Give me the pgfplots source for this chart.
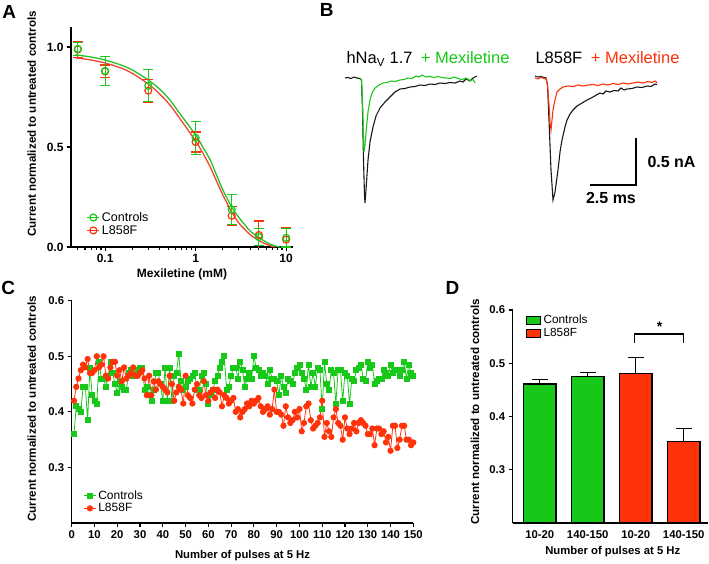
\documentclass[border=0pt]{standalone}
\usepackage{fontspec}
\setmainfont{Liberation Sans}
\usepackage{pgfplots}
\pgfplotsset{compat=1.18}

\definecolor{cgreen}{RGB}{24,200,24}
\definecolor{cred}{RGB}{255,50,10}
\definecolor{fitgreen}{RGB}{40,190,40}
\definecolor{fitred}{RGB}{240,70,50}
\definecolor{trace}{RGB}{25,25,25}

\pgfplotsset{
  gp/.style={scale only axis, anchor=south west,
    axis lines=left, axis line style={-, line width=1.1pt},
    tick style={line width=1.1pt, black}, tick align=outside,
    major tick length=4pt, minor tick length=2.5pt,
    ticklabel style={font=\fontsize{11.3}{12}\selectfont\bfseries},
    /pgf/number format/assume math mode=true,
    legend cell align=left},
  dots/.style={legend image code/.code={
    \draw[mark repeat=2, mark phase=2, ##1] plot coordinates {(0pt,0pt) (6pt,0pt) (12pt,0pt)};}},
  box/.style={legend image code/.code={
    \draw[##1, line width=1pt] (0pt,-3.8pt) rectangle (13.6pt,3.8pt);}},
}

\begin{document}
\begin{tikzpicture}
\useasboundingbox (0pt,0pt) rectangle (709pt,-563pt);

% ---------- A: dose response ----------
\begin{axis}[gp, at={(71pt,-247pt)}, width=222pt, height=220pt,
    xmode=log, xmin=0.042, xmax=11.9, ymin=0, ymax=1.1,
    xtick={0.1,1,10}, xticklabels={0.1,1,10},
    minor xtick={0.05,0.06,0.07,0.08,0.09,0.2,0.3,0.4,0.5,0.6,0.7,0.8,0.9,2,3,4,5,6,7,8,9},
    ytick={0,0.5,1},
    yticklabel style={/pgf/number format/.cd, fixed, fixed zerofill, precision=1},
    ticklabel style={font=\fontsize{12}{13}\selectfont\bfseries},
    dots,
    legend style={at={(0.07,0.168)}, anchor=north west, draw=none, fill=none,
      font=\fontsize{12.5}{13}\selectfont, row sep=-1.5pt, inner sep=0pt},
  ]
  \addlegendimage{cgreen, line width=1.2pt, mark=o, mark size=3.5pt}
  \addlegendentry{Controls}
  \addlegendimage{cred, line width=1.2pt, mark=o, mark size=3.5pt}
  \addlegendentry{L858F}

  \addplot[fitred, line width=1.3pt, smooth, forget plot] coordinates {
    (0.047,0.946) (0.07,0.935) (0.1,0.92) (0.15,0.895) (0.2,0.868) (0.3,0.815)
    (0.4,0.765) (0.52,0.71) (0.7,0.63) (1,0.53) (1.2,0.47) (1.45,0.40) (1.7,0.33)
    (2,0.26) (2.5,0.175) (3,0.12) (3.37,0.095) (4,0.062) (4.9,0.035) (5.5,0.022)
    (6.6,0.007) (7.5,0)};
  \addplot[fitgreen, line width=1.3pt, smooth, forget plot] coordinates {
    (0.047,0.961) (0.07,0.95) (0.1,0.935) (0.15,0.91) (0.2,0.885) (0.3,0.835)
    (0.4,0.79) (0.52,0.735) (0.7,0.655) (1,0.56) (1.2,0.5) (1.45,0.435) (1.7,0.36)
    (2,0.285) (2.5,0.20) (3,0.148) (3.37,0.12) (4,0.08) (4.9,0.05) (5.5,0.035)
    (6.6,0.015) (8,0.002) (8.5,0)};

  \addplot[cred, only marks, mark=o, mark size=3.5pt, mark options={line width=1.2pt}, forget plot,
    error bars/.cd, y dir=both, y explicit,
    error bar style={line width=1.1pt, cred},
    error mark options={rotate=90, mark size=5pt, line width=1.1pt, cred}]
    coordinates {
    (0.05,0.988) +- (0,0.04) (0.1,0.878) +- (0,0.032) (0.3,0.782) +- (0,0.057)
    (1,0.525) +- (0,0.05) (2.5,0.156) +- (0,0.048) (5,0.06) +- (0,0.07)
    (10,0.037) +- (0,0.06)};
  \addplot[cgreen, only marks, mark=o, mark size=3.5pt, mark options={line width=1.2pt}, forget plot,
    error bars/.cd, y dir=both, y explicit,
    error bar style={line width=1.1pt, cgreen},
    error mark options={rotate=90, mark size=5pt, line width=1.1pt, cgreen}]
    coordinates {
    (0.05,0.99) +- (0,0.033) (0.1,0.88) +- (0,0.072) (0.3,0.806) +- (0,0.08)
    (1,0.546) +- (0,0.083) (2.5,0.188) +- (0,0.075) (5,0.05) +- (0,0.042)
    (10,0.046) +- (0,0.046)};
\end{axis}

% ---------- B: current traces ----------
\begin{axis}[at={(340pt,-215pt)}, anchor=south west, scale only axis, hide axis,
    width=369pt, height=175pt, xmin=340, xmax=709, ymin=40, ymax=215,
    y dir=reverse, clip=false]
  \addplot[trace, line width=1.1pt] coordinates {
    (345,78) (348,77.5) (351,78.5) (354,77) (357,78) (360,78.5) (361.5,80)
    (362.5,110) (363.5,160) (364.5,195) (365,203) (366,190) (368,160) (370,142)
    (373,127) (376,116) (380,108) (385,102) (390,97) (395,92) (400,89) (405,88.5)
    (410,87) (415,86.5) (420,85) (425,85.5) (430,84) (435,84.5) (440,83) (445,83.5)
    (450,82.5) (455,83) (460,81) (463,82) (466,79) (470,81) (473,78) (477,76)};
  \addplot[cgreen, line width=1.1pt] coordinates {
    (360,78.5) (361.5,80) (362.5,100) (363.5,140) (364,152) (365,145) (366,133)
    (368,112) (370,100) (372,93) (375,88) (379,85) (383,83) (387,82.5) (391,81)
    (395,81.5) (400,80) (404,79.5) (408,78) (412,78.5) (416,76) (419,77) (422,75)
    (426,77) (430,76.5) (434,77.5) (438,76.5) (442,77.5) (446,78) (450,78.5)
    (454,77) (458,78.5) (462,79.5) (466,78) (470,80.5) (473,79.5) (475,83)};
  \addplot[trace, line width=1.1pt] coordinates {
    (535,76) (538,77) (541,76.5) (544,77.5) (546,78) (547.5,85) (549,120) (551,170)
    (553,200) (555,192) (558,170) (560,152) (562,140) (565,127) (567,120) (570,114)
    (573,110) (577,106) (582,103) (587,100) (593,97) (598,94) (600,93) (603,94)
    (606,91) (610,92) (614,90.5) (618,91) (621,88) (624,90) (627,89) (632,88.5)
    (637,87) (642,87.5) (647,86) (651,86.5) (655,84) (657,84.5)};
  \addplot[cred, line width=1.1pt] coordinates {
    (535,78) (538,79) (541,77.5) (544,78.5) (546,79) (547.5,85) (549,105) (550,122)
    (551,130) (552,120) (553,110) (555,100) (557,92) (560,89) (563,87) (568,86)
    (573,86.5) (578,85) (583,86) (588,85) (593,84.5) (598,85.5) (603,84) (608,85)
    (613,83.5) (618,84.5) (623,83) (628,84) (633,83) (638,82) (643,83) (648,81.5)
    (652,82.5) (655,81) (657,82.5)};
  % scale bar
  \addplot[black, line width=1.1pt] coordinates {(636,138) (636,185) (590,185)};
  \node[anchor=base west, font=\fontsize{16.5}{18}\selectfont] at (axis cs:343,63.7) {hNa\textsubscript{V} 1.7};
  \node[anchor=base east, font=\fontsize{16.5}{18}\selectfont, text=cgreen] at (axis cs:513,63.7) {+ Mexiletine};
  \node[anchor=base west, font=\fontsize{16.5}{18}\selectfont] at (axis cs:532,63.7) {L858F};
  \node[anchor=base east, font=\fontsize{16.5}{18}\selectfont, text=cred] at (axis cs:683,63.7) {+ Mexiletine};
  \node[anchor=west, font=\fontsize{16}{18}\selectfont\bfseries] at (axis cs:644,161.7) {0.5 nA};
  \node[font=\fontsize{16}{18}\selectfont\bfseries] at (axis cs:611,198.3) {2.5 ms};
\end{axis}

% ---------- C: pulse train ----------
\begin{axis}[gp, at={(71.7pt,-523pt)}, width=341.6pt, height=222.3pt,
    xmin=0, xmax=150, ymin=0.2, ymax=0.6,
    xtick={0,10,...,150}, ytick={0.3,0.4,0.5,0.6},
    yticklabel style={/pgf/number format/.cd, fixed, fixed zerofill, precision=1},
    dots, clip=false,
    legend style={at={(0.034,0.155)}, anchor=north west, draw=none, fill=none,
      font=\fontsize{12}{13}\selectfont, row sep=-1.5pt, inner sep=0pt},
  ]
  \addplot[cgreen, line width=0.8pt, mark=square*, mark size=2.5pt] coordinates {
    (1,0.36) (2,0.41) (3,0.405) (4,0.40) (5,0.445) (6,0.445) (7,0.385) (8,0.48)
    (9,0.43) (10,0.42) (11,0.415) (12,0.49) (13,0.46) (14,0.46) (15,0.445) (16,0.465)
    (17,0.49) (18,0.47) (19,0.45) (20,0.435) (21,0.455) (22,0.445) (23,0.44) (24,0.44)
    (25,0.47) (26,0.475) (27,0.465) (28,0.465) (29,0.475) (30,0.48) (31,0.48) (32,0.44)
    (33,0.445) (34,0.43) (35,0.42) (36,0.44) (37,0.47) (38,0.47) (39,0.45) (40,0.42)
    (41,0.48) (42,0.42) (43,0.48) (44,0.42) (45,0.465) (46,0.47) (47,0.505) (48,0.455)
    (49,0.44) (50,0.445) (51,0.455) (52,0.46) (53,0.465) (54,0.47) (55,0.44) (56,0.44)
    (57,0.465) (58,0.47) (59,0.45) (60,0.415) (61,0.43) (62,0.44) (63,0.455) (64,0.465)
    (65,0.48) (66,0.49) (67,0.50) (68,0.44) (69,0.445) (70,0.465) (71,0.48) (72,0.48)
    (73,0.46) (74,0.49) (75,0.475) (76,0.445) (77,0.46) (78,0.47) (79,0.46) (80,0.50)
    (81,0.48) (82,0.475) (83,0.465) (84,0.47) (85,0.465) (86,0.45) (87,0.475) (88,0.46)
    (89,0.46) (90,0.455) (91,0.43) (92,0.465) (93,0.445) (94,0.435) (95,0.46) (96,0.455)
    (97,0.45) (98,0.47) (99,0.48) (100,0.485) (101,0.47) (102,0.46) (103,0.44) (104,0.485)
    (105,0.445) (106,0.47) (107,0.445) (108,0.48) (109,0.475) (110,0.405) (111,0.49) (112,0.45)
    (113,0.44) (114,0.475) (115,0.47) (116,0.415) (117,0.475) (118,0.475) (119,0.42) (120,0.47)
    (121,0.465) (122,0.415) (123,0.46) (124,0.455) (125,0.475) (126,0.48) (127,0.485) (128,0.46)
    (129,0.455) (130,0.49) (131,0.48) (132,0.485) (133,0.45) (134,0.455) (135,0.46) (136,0.46)
    (137,0.475) (138,0.47) (139,0.465) (140,0.485) (141,0.47) (142,0.475) (143,0.475) (144,0.465)
    (145,0.475) (146,0.49) (147,0.46) (148,0.485) (149,0.47) (150,0.465)};
  \addlegendentry{Controls}
  \addplot[cred, line width=0.8pt, mark=*, mark size=2.7pt] coordinates {
    (1,0.42) (2,0.445) (3,0.46) (4,0.475) (5,0.485) (6,0.48) (7,0.495) (8,0.47)
    (9,0.47) (10,0.475) (11,0.50) (12,0.48) (13,0.485) (14,0.50) (15,0.465) (16,0.46)
    (17,0.48) (18,0.49) (19,0.49) (20,0.465) (21,0.475) (22,0.455) (23,0.48) (24,0.46)
    (25,0.465) (26,0.47) (27,0.48) (28,0.465) (29,0.465) (30,0.47) (31,0.475) (32,0.46)
    (33,0.43) (34,0.465) (35,0.43) (36,0.455) (37,0.44) (38,0.455) (39,0.45) (40,0.445)
    (41,0.44) (42,0.435) (43,0.465) (44,0.45) (45,0.42) (46,0.435) (47,0.445) (48,0.44)
    (49,0.415) (50,0.465) (51,0.43) (52,0.425) (53,0.415) (54,0.44) (55,0.45) (56,0.43)
    (57,0.425) (58,0.455) (59,0.43) (60,0.42) (61,0.435) (62,0.44) (63,0.425) (64,0.44)
    (65,0.435) (66,0.41) (67,0.43) (68,0.425) (69,0.415) (70,0.42) (71,0.425) (72,0.40)
    (73,0.405) (74,0.39) (75,0.40) (76,0.405) (77,0.415) (78,0.41) (79,0.42) (80,0.415)
    (81,0.42) (82,0.425) (83,0.41) (84,0.40) (85,0.405) (86,0.41) (87,0.395) (88,0.405)
    (89,0.44) (90,0.40) (91,0.40) (92,0.395) (93,0.375) (94,0.41) (95,0.39) (96,0.38)
    (97,0.385) (98,0.40) (99,0.39) (100,0.405) (101,0.365) (102,0.38) (103,0.41) (104,0.415)
    (105,0.385) (106,0.37) (107,0.375) (108,0.38) (109,0.39) (110,0.42) (111,0.355) (112,0.38)
    (113,0.365) (114,0.355) (115,0.39) (116,0.405) (117,0.38) (118,0.375) (119,0.35) (120,0.39)
    (121,0.37) (122,0.36) (123,0.37) (124,0.38) (125,0.365) (126,0.38) (127,0.385) (128,0.38)
    (129,0.375) (130,0.36) (131,0.36) (132,0.37) (133,0.34) (134,0.37) (135,0.37) (136,0.36)
    (137,0.365) (138,0.345) (139,0.355) (140,0.33) (141,0.375) (142,0.375) (143,0.335) (144,0.35)
    (145,0.375) (146,0.375) (147,0.35) (148,0.35) (149,0.34) (150,0.345)};
  \addlegendentry{L858F}
\end{axis}

% ---------- D: bar summary ----------
\begin{axis}[gp, at={(512.7pt,-523pt)}, width=195.3pt, height=213pt,
    xmin=-0.5625, xmax=3.506, ymin=0.2, ymax=0.6,
    xtick={0,1,2,3}, xticklabels={10-20,140-150,10-20,140-150},
    xtick style={draw=none},
    ytick={0.3,0.4,0.5,0.6},
    yticklabel style={/pgf/number format/.cd, fixed, fixed zerofill, precision=1},
    ybar, bar width=0.68, bar shift=0pt, box,
    legend style={at={(0.067,0.985)}, anchor=north west, draw=none, fill=none,
      font=\fontsize{11.8}{12.5}\selectfont, row sep=-1pt, inner sep=0pt,
      /tikz/every odd column/.append style={column sep=1pt}},
  ]
  \addplot[fill=cgreen, draw=black, line width=1.1pt,
    error bars/.cd, y dir=plus, y explicit,
    error bar style={line width=1.1pt, black},
    error mark options={rotate=90, mark size=8pt, line width=1.1pt, black}]
    coordinates {(0,0.461) +- (0,0.008) (1,0.475) +- (0,0.008)};
  \addlegendentry{Controls}
  \addplot[fill=cred, draw=black, line width=1.1pt,
    error bars/.cd, y dir=plus, y explicit,
    error bar style={line width=1.1pt, black},
    error mark options={rotate=90, mark size=8pt, line width=1.1pt, black}]
    coordinates {(2,0.48) +- (0,0.031) (3,0.353) +- (0,0.024)};
  \addlegendentry{L858F}
  \addplot[sharp plot, black, line width=1.1pt, forget plot] coordinates {
    (1.97,0.538) (1.97,0.555) (3,0.555) (3,0.538)};
  \node[font=\fontsize{14}{14}\selectfont\bfseries] at (axis cs:2.5,0.568) {*};
\end{axis}

% ---------- shared labels ----------
\node[font=\fontsize{19}{20}\selectfont\bfseries] at (9.2pt,-11.7pt) {A};
\node[font=\fontsize{19}{20}\selectfont\bfseries] at (326.7pt,-10pt) {B};
\node[font=\fontsize{19}{20}\selectfont\bfseries] at (8.3pt,-288pt) {C};
\node[font=\fontsize{19}{20}\selectfont\bfseries] at (452.5pt,-288pt) {D};

\node[rotate=90, font=\fontsize{11.6}{12}\selectfont\bfseries] at (31.7pt,-124pt) {Current normalized to untreated controls};
\node[rotate=90, font=\fontsize{11.6}{12}\selectfont\bfseries] at (31.7pt,-409pt) {Current normalized to untreated controls};
\node[rotate=90, font=\fontsize{11.6}{12}\selectfont\bfseries] at (475pt,-411.7pt) {Current normalized to untreated controls};
\node[font=\fontsize{12}{13}\selectfont\bfseries] at (182pt,-274pt) {Mexiletine (mM)};
\node[font=\fontsize{11.3}{12}\selectfont\bfseries] at (242.5pt,-556pt) {Number of pulses at 5 Hz};
\node[font=\fontsize{11.3}{12}\selectfont\bfseries] at (612.8pt,-551.7pt) {Number of pulses at 5 Hz};
\end{tikzpicture}
\end{document}
